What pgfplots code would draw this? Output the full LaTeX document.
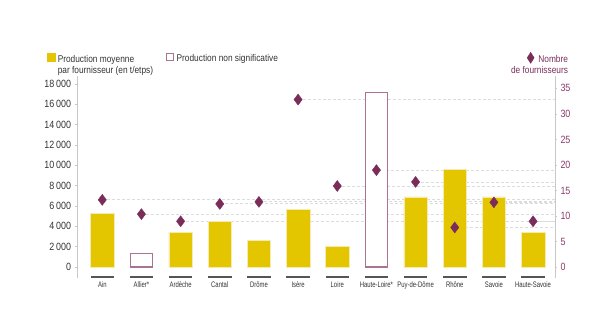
\documentclass[border=0pt]{standalone}
\usepackage{pgfplots}
\pgfplotsset{compat=1.18}
\usepackage{fontspec}
\setmainfont{Liberation Sans}[FakeStretch=0.85]
\newfontfamily\narrowfont{Liberation Sans}[FakeStretch=0.74]
\definecolor{barY}{HTML}{E3C600}
\definecolor{barEdge}{HTML}{F5EBB0}
\definecolor{purp}{HTML}{7B2D5A}
\definecolor{outl}{HTML}{AA7391}
\definecolor{tickpurp}{HTML}{8B3A6B}
\definecolor{axgray}{HTML}{C8C8C8}
\definecolor{dashgray}{HTML}{DCDCDC}
\definecolor{txt}{HTML}{333333}
\definecolor{darkline}{HTML}{555555}
\pgfplotsset{
  common/.style={scale only axis, width=477.5bp, height=202bp, at={(77.5bp,55bp)},
    anchor=south west, xmin=-0.633, xmax=11.56, clip=false},
}
\begin{document}
\begin{tikzpicture}
\useasboundingbox (0bp,0bp) rectangle (596bp,333bp);
% layer 1: dashed guide lines (right scale)
\begin{axis}[common, ymin=-2.09, ymax=37.41, hide axis]
\addplot[only marks, mark=none,
  error bars/.cd, x dir=plus, x explicit, error mark=none,
  error bar style={dashgray, dash pattern=on 3bp off 2bp, line width=0.8bp}]
  coordinates {
  (0,13.2) +- (11.56,0)
  (1,10.4) +- (10.56,0)
  (2,9.0) +- (9.56,0)
  (3,12.4) +- (8.56,0)
  (4,12.8) +- (7.56,0)
  (5,32.8) +- (6.56,0)
  (6,15.9) +- (5.56,0)
  (7,19.0) +- (4.56,0)
  (8,16.7) +- (3.56,0)
  (9,7.8) +- (2.56,0)
  (10,12.7) +- (1.56,0)
  (11,9.0) +- (0.56,0)
  };
\end{axis}
% layer 2: bars (left scale)
\begin{axis}[common, ymin=-1080, ymax=18790,
  axis x line*=bottom, x axis line style={draw=none}, xtick style={draw=none},
  axis y line*=left, y axis line style={axgray, line width=0.6bp},
  ytick={0,2000,...,18000}, ytick style={axgray, line width=0.6bp},
  scaled y ticks=false,
  tick align=outside, major tick length=3bp,
  yticklabel style={font=\fontsize{10.5bp}{12bp}\selectfont, text=txt},
  xtick={0,...,11},
  xticklabels={Ain, Allier*, Ardèche, Cantal, Drôme, Isère, Loire, Haute-Loire*, Puy-de-Dôme, Rhône, Savoie, Haute-Savoie},
  xticklabel style={font=\narrowfont\fontsize{8bp}{9bp}\selectfont, text=txt, yshift=2.5bp},
  /pgf/number format/assume math mode=true,
  /pgf/number format/1000 sep={\,},
  legend style={draw=none, fill=none, at={(axis description cs:-0.0702,1.124)}, anchor=north west,
    font=\fontsize{9.8bp}{11bp}\selectfont, text=txt,
    /tikz/every even column/.append style={column sep=12bp},
    /tikz/every odd column/.append style={column sep=1.5bp}, nodes={inner sep=1bp}},
  legend columns=2, legend cell align=left]
\addplot[ybar, bar width=23.5bp, bar shift=0pt, fill=barY, draw=barEdge, line width=0.6bp,
  legend image code/.code={\fill[barY] (0bp,-2bp) rectangle (7.5bp,5.5bp);}]
  coordinates {(0,5300) (2,3400) (3,4500) (4,2600) (5,5650) (6,2050) (8,6900) (9,9600) (10,6900) (11,3400)};
\addlegendentry{\begin{tabular}[t]{@{}l@{}}Production moyenne\\par fournisseur (en t/etps)\end{tabular}}
\addplot[ybar, bar width=22.5bp, bar shift=0pt, fill=white, draw=outl, line width=1.1bp,
  legend image code/.code={\draw[outl, fill=white, line width=1bp] (0.5bp,-1.5bp) rectangle (7.5bp,5.5bp);}]
  coordinates {(1,1350) (7,17200)};
\addlegendentry{Production non significative}
\addplot[only marks, mark=-, mark size=11.75bp, mark options={line width=1.8bp, draw=darkline}, forget plot]
  coordinates {(0,-954) (1,-954) (2,-954) (3,-954) (4,-954) (5,-954) (6,-954) (7,-954) (8,-954) (9,-954) (10,-954) (11,-954)};
\end{axis}
% layer 3: diamonds (right scale)
\begin{axis}[common, ymin=-2.09, ymax=37.41,
  axis x line=none, axis y line*=right, y axis line style={axgray, line width=0.6bp},
  ytick={0,5,...,35}, ytick style={axgray, line width=0.6bp},
  tick align=outside, major tick length=2bp,
  yticklabel style={font=\fontsize{10.5bp}{12bp}\selectfont, text=tickpurp},
  /pgf/number format/assume math mode=true,
  legend style={draw=none, fill=none, at={(axis description cs:0.9346,1.129)}, anchor=north west,
    font=\fontsize{9.8bp}{11bp}\selectfont, text=purp, nodes={inner sep=1bp},
    /tikz/every odd column/.append style={column sep=3bp}},
  legend cell align=right]
\addplot[only marks, mark=diamond*, mark size=5.5bp, mark options={fill=purp, draw=purp},
  legend image code/.code={\draw[purp, fill=purp] (4bp,-3.5bp) -- (7.5bp,2bp) -- (4bp,7.5bp) -- (0.5bp,2bp) -- cycle;}]
  coordinates {(0,13.2) (1,10.4) (2,9.0) (3,12.4) (4,12.8) (5,32.8) (6,15.9) (7,19.0) (8,16.7) (9,7.8) (10,12.7) (11,9.0)};
\addlegendentry{\begin{tabular}[t]{@{}r@{}}Nombre\\\makebox[0pt][r]{de fournisseurs}\end{tabular}}
\end{axis}
\end{tikzpicture}
\end{document}
